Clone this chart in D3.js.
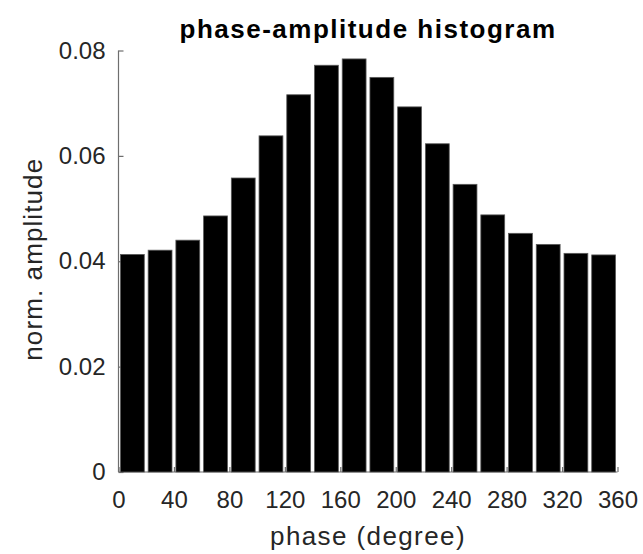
<!DOCTYPE html>
<html>
<head>
<meta charset="utf-8">
<script src="https://cdn.jsdelivr.net/npm/d3@7"></script>
<style>
  body { margin: 0; background: #fff; }
  text { font-family: "Liberation Sans", Arial, Helvetica, sans-serif; fill: #262626; }
</style>
</head>
<body>
<script>
// ----------------------------------------------------------------
// data
// ----------------------------------------------------------------
var bin_edges = [0, 20, 40, 60, 80, 100, 120, 140, 160, 180, 200, 220, 240, 260, 280, 300, 320, 340, 360];
var amplitude = [0.0413, 0.0421, 0.0440, 0.0486, 0.0558, 0.0638, 0.0716, 0.0772, 0.0784,
                 0.0749, 0.0693, 0.0623, 0.0546, 0.0488, 0.0453, 0.0432, 0.0415, 0.0412];
var x_ticks = [0, 40, 80, 120, 160, 200, 240, 280, 320, 360];
var y_ticks = [0, 0.02, 0.04, 0.06, 0.08];
var title = "phase-amplitude histogram";
var x_label = "phase (degree)";
var y_label = "norm. amplitude";

// ----------------------------------------------------------------
var W = 643, H = 554;
var margin = { top: 50.5, right: 25.5, bottom: 82, left: 118.5 };
var width = W - margin.left - margin.right;
var height = H - margin.top - margin.bottom;

var svg = d3.select("body").append("svg")
    .attr("width", W)
    .attr("height", H);

var g = svg.append("g")
    .attr("transform", "translate(" + margin.left + "," + margin.top + ")");

var x = d3.scaleLinear().domain([0, 360]).range([0, width]);
var y = d3.scaleLinear().domain([0, 0.08]).range([height, 0]);

var bins = amplitude.map(function(v, i) {
  return { x0: bin_edges[i], x1: bin_edges[i + 1], value: v };
});

// ----------------------------------------------------------------
// axes (drawn below the bars, like matlab's default layer)
var axis_color = "#6e6e6e";

var xAxis = g.append("g")
    .attr("transform", "translate(0," + height + ")")
    .call(d3.axisBottom(x).tickValues(x_ticks).tickSize(-5).tickPadding(19).tickFormat(d3.format("d")));

var yAxis = g.append("g")
    .call(d3.axisLeft(y).tickValues(y_ticks).tickSize(-5).tickPadding(13)
      .tickFormat(function(d) { return d === 0 ? "0" : d3.format(".2f")(d); }));

[xAxis, yAxis].forEach(function(a) {
  a.select(".domain").attr("stroke", axis_color).attr("stroke-width", 1.2);
  a.selectAll(".tick line").attr("stroke", axis_color).attr("stroke-width", 1.2);
  a.selectAll(".tick text")
    .style("font-family", "'Liberation Sans', Arial, Helvetica, sans-serif")
    .style("font-size", "24px")
    .attr("fill", "#262626");
});
// plain axis lines, no outer tick brackets
xAxis.select(".domain").attr("d", "M0,0H" + width);
yAxis.select(".domain").attr("d", "M0,0V" + height);

// ----------------------------------------------------------------
// bars
var bw = (x(20) - x(0)) * 0.86;

g.append("g").selectAll("rect")
    .data(bins)
    .enter()
    .append("rect")
    .attr("x", function(d) { return x((d.x0 + d.x1) / 2) - bw / 2; })
    .attr("y", function(d) { return y(d.value); })
    .attr("width", bw)
    .attr("height", function(d) { return y(0) - y(d.value); })
    .attr("fill", "#000")
    .attr("stroke", "#5a5a5a")
    .attr("stroke-width", 0.8);

// ----------------------------------------------------------------
// labels
svg.append("text")
    .attr("x", margin.left + width / 2)
    .attr("y", 38)
    .attr("text-anchor", "middle")
    .style("font-size", "26px")
    .style("font-weight", "bold")
    .style("letter-spacing", "1.5px")
    .style("fill", "#000")
    .text(title);

svg.append("text")
    .attr("x", margin.left + width / 2)
    .attr("y", 545)
    .attr("text-anchor", "middle")
    .style("font-size", "26px")
    .style("letter-spacing", "1.4px")
    .text(x_label);

svg.append("text")
    .attr("transform", "translate(42," + (margin.top + height / 2 - 2) + ") rotate(-90)")
    .attr("text-anchor", "middle")
    .style("font-size", "26px")
    .style("letter-spacing", "1.1px")
    .text(y_label);
</script>
</body>
</html>
